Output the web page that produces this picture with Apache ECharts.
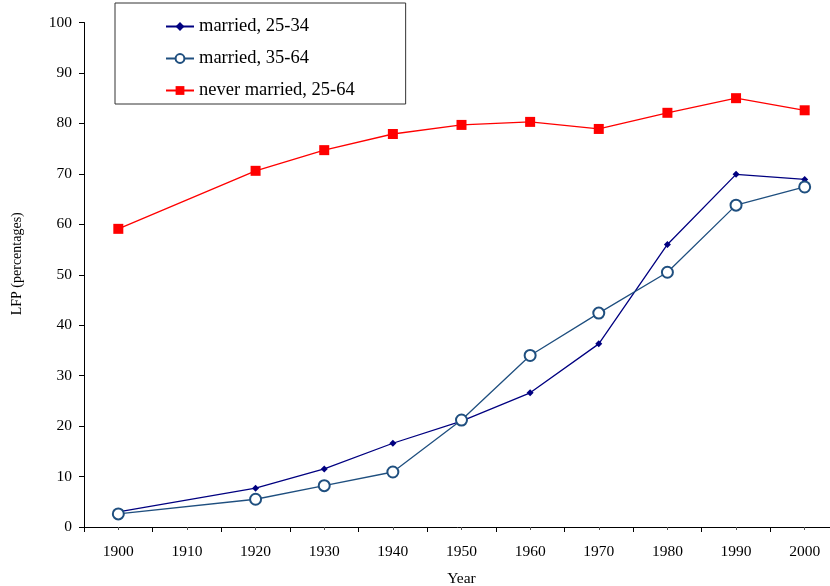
<!DOCTYPE html>
<html>
<head>
<meta charset="utf-8">
<script src="https://cdn.jsdelivr.net/npm/echarts@6/dist/echarts.min.js"></script>
<style>html,body{margin:0;padding:0;background:#fff;}#c{width:830px;height:586px;}</style>
</head>
<body>
<div id="c"></div>
<script>
var years = ['1900','1910','1920','1930','1940','1950','1960','1970','1980','1990','2000'];
var yTicks = [0,10,20,30,40,50,60,70,80,90,100];
var married2534 = [3.0, null, 7.7, 11.5, 16.6, 21.0, 26.6, 36.3, 56.0, 69.9, 68.9];
var married3564 = [2.6, null, 5.5, 8.2, 10.9, 21.2, 34.0, 42.4, 50.5, 63.8, 67.4];
var neverMarried = [59.1, null, 70.6, 74.7, 77.9, 79.7, 80.3, 78.9, 82.1, 85.0, 82.6];

var font = 'Liberation Serif, Times New Roman, serif';
var chart = echarts.init(document.getElementById('c'));
chart.setOption({
  animation: false,
  backgroundColor: '#fff',
  textStyle: {fontFamily: font},
  grid: {left: 84, right: -9, top: 22.5, bottom: 59, containLabel: false, outerBoundsMode: 'none'},
  legend: {
    orient: 'vertical', left: 115, top: 3,
    padding: [14, 51, 4, 50],
    itemGap: 13, itemWidth: 28, itemHeight: 11,
    borderColor: '#333', borderWidth: 1,
    textStyle: {fontFamily: font, fontSize: 18.5, color: '#000'},
    data: ['married, 25-34', 'married, 35-64', 'never married, 25-64']
  },
  xAxis: [{
    type: 'category', data: years, boundaryGap: true,
    name: 'Year', nameLocation: 'middle', nameGap: 44,
    nameTextStyle: {fontFamily: font, fontSize: 15.5, color: '#000'},
    axisLine: {show: true, lineStyle: {color: '#000', width: 1}},
    axisTick: {show: true, inside: false, length: 5, lineStyle: {color: '#000', width: 1}},
    axisLabel: {fontFamily: font, fontSize: 15.5, color: '#000', margin: 17}
  }, {
    type: 'category', data: years, boundaryGap: true, position: 'bottom',
    axisLine: {show: false},
    axisTick: {show: true, inside: false, alignWithLabel: true, length: 3, lineStyle: {color: '#555', width: 1}},
    axisLabel: {show: false}
  }],
  yAxis: {
    type: 'value', min: 0, max: 100, interval: 10,
    name: 'LFP (percentages)', nameLocation: 'middle', nameGap: 60, nameRotate: 90,
    nameTextStyle: {fontFamily: font, fontSize: 14, color: '#000', padding: [0, 0, 0, 22]},
    axisLine: {show: true, lineStyle: {color: '#000', width: 1}},
    axisTick: {show: true, inside: false, length: 5, lineStyle: {color: '#000', width: 1}},
    splitLine: {show: false},
    axisLabel: {fontFamily: font, fontSize: 15.5, color: '#000', margin: 12,
      formatter: function(v){ return yTicks.indexOf(v) >= 0 ? String(v) : ''; }}
  },
  series: [{
    name: 'married, 25-34', type: 'line', xAxisIndex: 0, data: married2534, connectNulls: true,
    symbol: 'diamond', symbolSize: 7,
    lineStyle: {color: '#000080', width: 1.3},
    itemStyle: {color: '#000080'}
  }, {
    name: 'married, 35-64', type: 'line', xAxisIndex: 0, data: married3564, connectNulls: true,
    symbol: 'emptyCircle', symbolSize: 11,
    lineStyle: {color: '#1f4f7f', width: 1.3},
    itemStyle: {color: '#1f4f7f', borderWidth: 1.3}
  }, {
    name: 'never married, 25-64', type: 'line', xAxisIndex: 0, data: neverMarried, connectNulls: true,
    symbol: 'rect', symbolSize: 10,
    lineStyle: {color: '#ff0000', width: 1.3},
    itemStyle: {color: '#ff0000'}
  }]
});
</script>
</body>
</html>
